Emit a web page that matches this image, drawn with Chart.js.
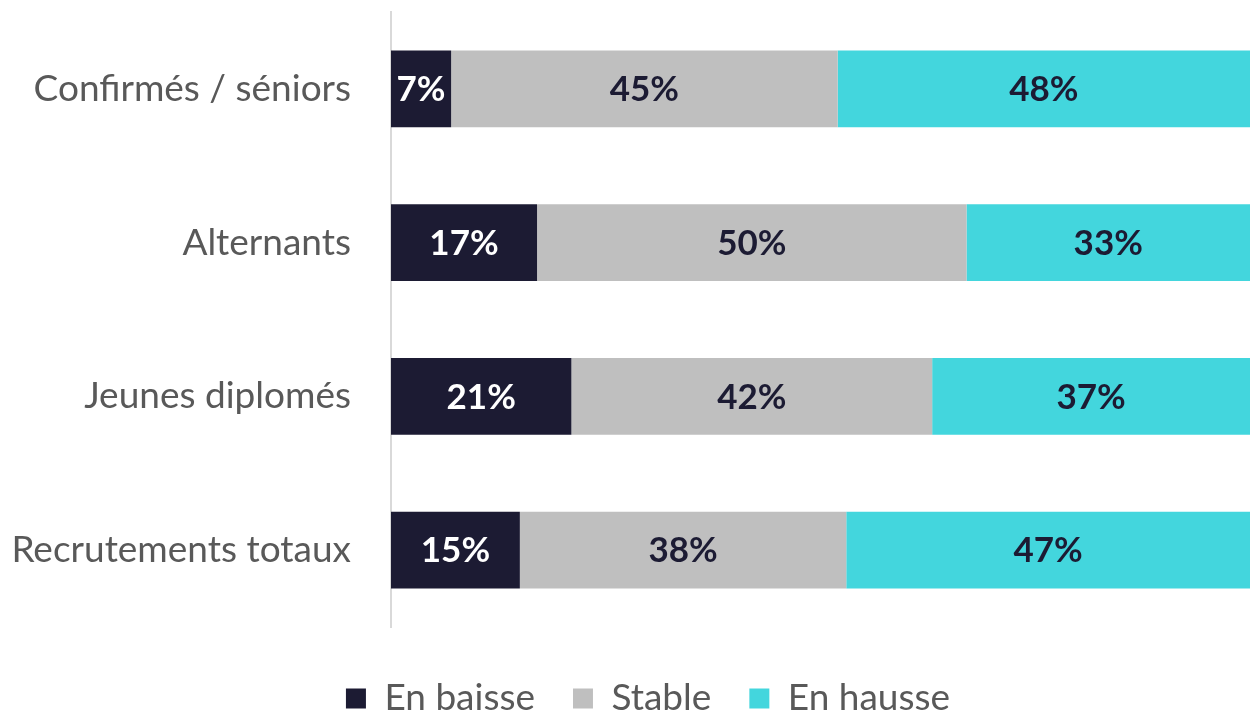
<!DOCTYPE html>
<html><head><meta charset="utf-8">
<script src="https://cdn.jsdelivr.net/npm/chart.js@4"></script>
<style>html,body{margin:0;padding:0;background:#fff}#wrap{width:1250px;height:715px}</style>
</head><body><div id="wrap"><canvas id="c" width="1250" height="715"></canvas></div>
<script>
const categories = ["Confirmés / séniors", "Alternants", "Jeunes diplomés", "Recrutements totaux"];
const seriesNames = ["En baisse", "Stable", "En hausse"];
const enBaisse = [7, 17, 21, 15];
const stable = [45, 50, 42, 38];
const enHausse = [48, 33, 37, 47];
const colors = ["#1c1b33", "#bfbfbf", "#43d6dd"];
const labelColors = ["#ffffff", "#1c1b33", "#1c1b33"];
const FONT = "Lato, 'Open Sans', sans-serif";

const labelPlugin = {
  id: 'barLabels',
  afterDatasetsDraw(chart) {
    const ctx = chart.ctx;
    ctx.save();
    ctx.font = "bold 35px " + FONT;
    ctx.textAlign = "center";
    ctx.textBaseline = "middle";
    chart.data.datasets.forEach((ds, i) => {
      const meta = chart.getDatasetMeta(i);
      meta.data.forEach((bar, j) => {
        const cx = (bar.x + bar.base) / 2;
        ctx.fillStyle = labelColors[i];
        ctx.fillText(ds.data[j] + "%", cx, bar.y + 1);
      });
    });
    ctx.restore();
  }
};

const legendShift = {
  id: 'legendShift',
  afterInit(chart) {
    const lg = chart.legend;
    if (lg) {
      const orig = lg.fit.bind(lg);
      lg.fit = function () { orig(); this.height = 88; };
    }
  },
  afterLayout(chart) {
    const lg = chart.legend;
    const dx = 23, dy = 15;
    lg.left += dx; lg.right += dx; lg.top += dy; lg.bottom += dy;
  }
};

new Chart(document.getElementById('c'), {
  type: 'bar',
  data: {
    labels: categories,
    datasets: [enBaisse, stable, enHausse].map((d, i) => ({
      label: seriesNames[i], data: d, backgroundColor: colors[i],
      borderWidth: 0, barPercentage: 0.5, categoryPercentage: 1
    }))
  },
  options: {
    indexAxis: 'y', responsive: false, animation: false,
    layout: { padding: { top: 12, right: 0, bottom: 0, left: 0 } },
    scales: {
      x: { stacked: true, min: 0, max: 100, display: false },
      y: { stacked: true,
        grid: { display: false },
        border: { display: true, color: '#d9d9d9', width: 2 },
        ticks: { color: '#595959', font: { family: FONT, size: 37 }, padding: 32 },
        afterFit(scale) { scale.width = 391; scale.paddingTop = 0; scale.paddingBottom = 0; }
      }
    },
    plugins: {
      legend: { position: 'bottom',
        labels: { color: '#595959', boxWidth: 20, boxHeight: 20, padding: 38,
          font: { family: FONT, size: 37 } } },
      tooltip: { enabled: false }
    }
  },
  plugins: [labelPlugin, legendShift]
});
</script></body></html>
